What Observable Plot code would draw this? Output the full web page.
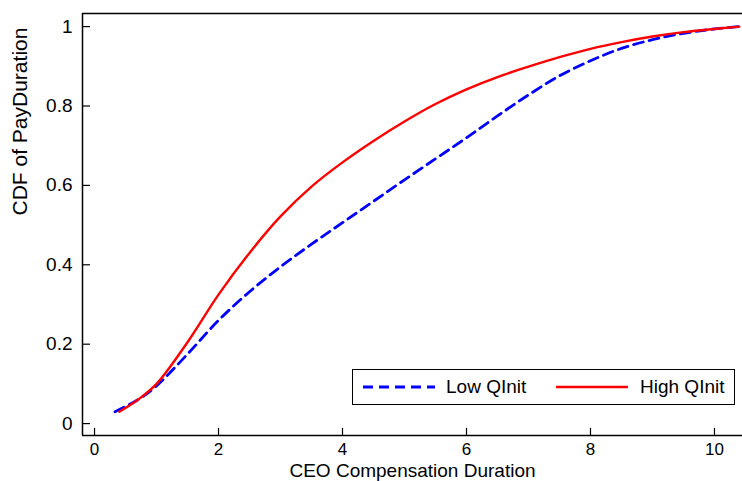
<!DOCTYPE html>
<html>
<head>
<meta charset="utf-8">
<script src="https://cdn.jsdelivr.net/npm/d3@7"></script>
<script src="https://cdn.jsdelivr.net/npm/@observablehq/plot@0.6"></script>
<style>
  html, body { margin: 0; padding: 0; background: #fff; }
  #wrap { position: relative; width: 742px; height: 481px; overflow: hidden; font-family: "Liberation Sans", Arial, sans-serif; }
  #legend { position: absolute; left: 352px; top: 369px; width: 381px; height: 34px; border: 1px solid #000; background: #fff; box-sizing: content-box; }
  #legend .item { position: absolute; top: 0; height: 34px; display: flex; align-items: center; font-size: 19px; color: #000; }
</style>
</head>
<body>
<div id="wrap"></div>
<script>
const lowX  = [0.33, 0.7, 1.0, 1.5, 2.0, 2.5, 3.0, 3.5, 4.0, 4.5, 5.0, 5.5, 6.0, 6.5, 7.0, 7.5, 8.0, 8.5, 9.0, 9.5, 10.0, 10.4];
const lowY  = [0.03, 0.06, 0.095, 0.175, 0.26, 0.332, 0.395, 0.452, 0.506, 0.56, 0.614, 0.667, 0.72, 0.775, 0.828, 0.876, 0.914, 0.945, 0.967, 0.983, 0.994, 1.0];
const highX = [0.4, 0.7, 1.0, 1.5, 2.0, 2.5, 3.0, 3.5, 4.0, 4.5, 5.0, 5.5, 6.0, 6.5, 7.0, 7.5, 8.0, 8.5, 9.0, 9.5, 10.0, 10.4];
const highY = [0.03, 0.06, 0.10, 0.205, 0.325, 0.43, 0.522, 0.597, 0.658, 0.712, 0.761, 0.805, 0.842, 0.873, 0.899, 0.923, 0.944, 0.961, 0.975, 0.986, 0.994, 1.0];
const xTicks = [0, 2, 4, 6, 8, 10];
const yTicks = [0, 0.2, 0.4, 0.6, 0.8, 1];
const yTickLabels = ["0", "0.2", "0.4", "0.6", "0.8", "1"];
const seriesNames = ["Low QInit", "High QInit"];
const xLabel = "CEO Compensation Duration";
const yLabel = "CDF of PayDuration";

const low = lowX.map((x, i) => ({x, y: lowY[i]}));
const high = highX.map((x, i) => ({x, y: highY[i]}));

const xDom = [-0.194, 10.452];
const yDom = [-0.030, 1.033];
const yTickLen = 8 / 62;        // inward tick length in x units

const chart = Plot.plot({
  width: 742,
  height: 481,
  marginLeft: 82,
  marginRight: 0,
  marginTop: 13,
  marginBottom: 46,
  style: {fontFamily: '"Liberation Sans", Arial, sans-serif', background: "#fff", overflow: "visible"},
  x: {domain: xDom},
  y: {domain: yDom},
  marks: [
    Plot.axisX({ticks: xTicks, tickSize: 0, tickPadding: 7, fontSize: 17, label: null, tickFormat: d => String(d), fill: "#000"}),
    Plot.axisY({ticks: yTicks, tickSize: 0, tickPadding: 10, fontSize: 19, label: null, tickFormat: d => yTickLabels[yTicks.indexOf(d)], fill: "#000"}),
    Plot.ruleX(xTicks, {x: d => d, y1: yDom[0], y2: yDom[0] + 0.018, stroke: "#000", strokeWidth: 1.2}),
    Plot.ruleY(yTicks, {y: d => d, x1: xDom[0], x2: xDom[0] + yTickLen, stroke: "#000", strokeWidth: 1.2}),
    Plot.ruleX([xDom[0]], {stroke: "#000", strokeWidth: 1.5}),
    Plot.ruleY([yDom[0]], {stroke: "#000", strokeWidth: 1.5}),
    Plot.ruleY([yDom[1]], {stroke: "#000", strokeWidth: 1.5}),
    Plot.line(low, {x: "x", y: "y", stroke: "#0000ff", strokeWidth: 2.8, strokeDasharray: "10,6", curve: "catmull-rom"}),
    Plot.line(high, {x: "x", y: "y", stroke: "#ff0000", strokeWidth: 2.4, curve: "catmull-rom"}),
    Plot.text([xLabel], {frameAnchor: "bottom", dy: 35, fontSize: 19, fill: "#000", lineAnchor: "middle"}),
    Plot.text([yLabel], {frameAnchor: "left", dx: -62, dy: -9, rotate: -90, fontSize: 21, fill: "#000", lineAnchor: "middle"})
  ]
});

const wrap = document.getElementById("wrap");
wrap.appendChild(chart);

const legend = document.createElement("div");
legend.id = "legend";
legend.innerHTML = `
  <div class="item" style="left:10px">
    <svg width="72" height="10" style="margin-right:11px"><line x1="0" y1="5" x2="72" y2="5" stroke="#0000ff" stroke-width="2.8" stroke-dasharray="10,6"/></svg>${seriesNames[0]}
  </div>
  <div class="item" style="left:203px">
    <svg width="72" height="10" style="margin-right:12px"><line x1="0" y1="5" x2="72" y2="5" stroke="#ff0000" stroke-width="2.4"/></svg>${seriesNames[1]}
  </div>`;
wrap.appendChild(legend);
</script>
</body>
</html>
